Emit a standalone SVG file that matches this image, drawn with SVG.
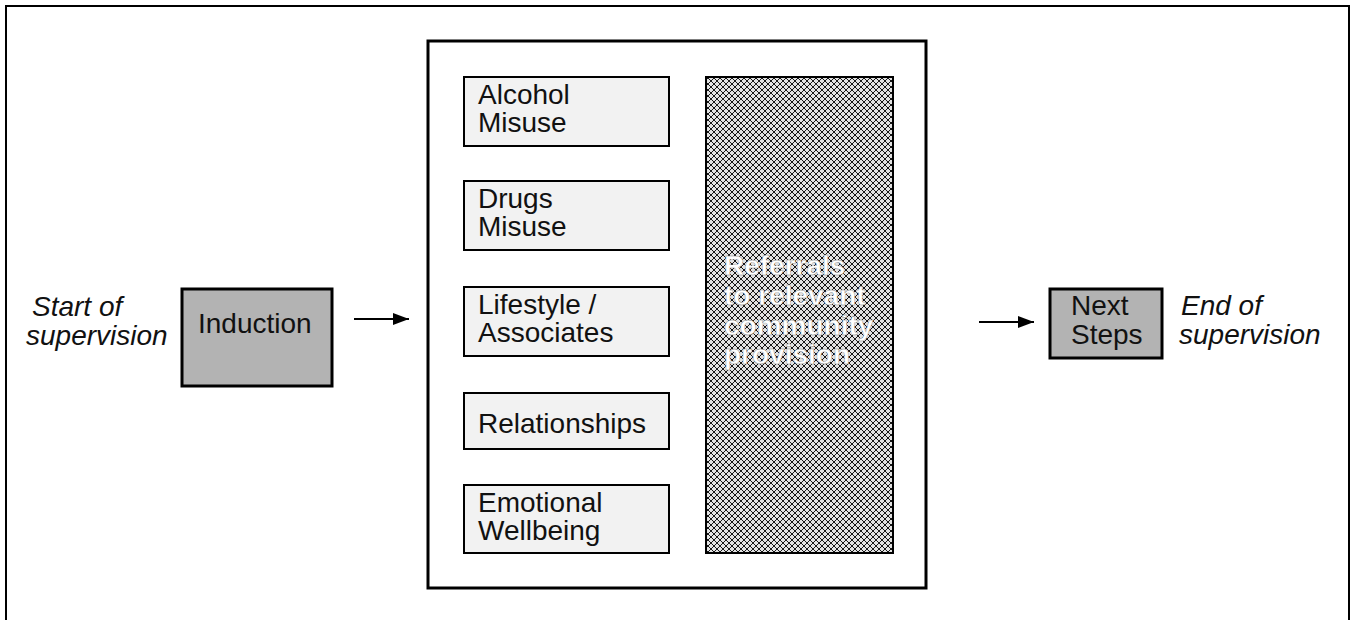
<svg xmlns="http://www.w3.org/2000/svg" width="1356" height="620" viewBox="0 0 1356 620">
<defs>
<pattern id="hatch" width="6" height="6" patternUnits="userSpaceOnUse">
<rect width="6" height="6" fill="#e2e2e2"/>
<path d="M0,0 L6,6 M6,0 L0,6" stroke="#000" stroke-width="0.9"/>
</pattern>
<marker id="arr" viewBox="0 0 16 12" refX="16" refY="6" markerWidth="16" markerHeight="12" markerUnits="userSpaceOnUse" orient="auto">
<path d="M0,0 L16,6 L0,12 Z" fill="#000"/>
</marker>
<style>
text{font-family:"Liberation Sans",Arial,sans-serif;font-size:28px;fill:#111}
.it{font-style:italic}
.topic{fill:#f2f2f2;stroke:#000;stroke-width:2}
.step{fill:#b3b3b3;stroke:#000;stroke-width:3}
.ref{font-weight:bold;fill:#fff;stroke:#888;stroke-width:0.4}
.conn{stroke:#000;stroke-width:2;fill:none}
</style>
</defs>
<rect x="0" y="0" width="1356" height="620" fill="#fff"/>
<rect x="6" y="6" width="1343" height="620" fill="none" stroke="#000" stroke-width="2"/>

<g id="start-label">
<text class="it" x="32" y="316">Start of</text>
<text class="it" x="26" y="345">supervision</text>
</g>
<g id="induction">
<rect class="step" x="182" y="289" width="150" height="97"/>
<text x="198" y="333">Induction</text>
</g>

<g id="programme">
<rect x="428" y="41" width="498" height="547" fill="#fff" stroke="#000" stroke-width="3"/>
</g>
<g id="alcohol">
<rect class="topic" x="464" y="77" width="205" height="69"/>
<text x="478" y="104">Alcohol</text>
<text x="478" y="132">Misuse</text>
</g>
<g id="drugs">
<rect class="topic" x="464" y="181" width="205" height="69"/>
<text x="478" y="208">Drugs</text>
<text x="478" y="236">Misuse</text>
</g>
<g id="lifestyle">
<rect class="topic" x="464" y="287" width="205" height="69"/>
<text x="478" y="314">Lifestyle /</text>
<text x="478" y="342">Associates</text>
</g>
<g id="relationships">
<rect class="topic" x="464" y="393" width="205" height="56"/>
<text x="478" y="433">Relationships</text>
</g>
<g id="emotional">
<rect class="topic" x="464" y="485" width="205" height="68"/>
<text x="478" y="512">Emotional</text>
<text x="478" y="540">Wellbeing</text>
</g>
<g id="referrals">
<rect x="706" y="77" width="187" height="476" fill="url(#hatch)" stroke="#000" stroke-width="2"/>
<text class="ref" x="724" y="275">Referrals</text>
<text class="ref" x="724" y="305">to relevant</text>
<text class="ref" x="724" y="335">community</text>
<text class="ref" x="724" y="364">provision</text>
</g>

<g id="next-steps">
<rect class="step" x="1050" y="289" width="112" height="69"/>
<text x="1071" y="315">Next</text>
<text x="1071" y="344">Steps</text>
</g>
<g id="end-label">
<text class="it" x="1181" y="315">End of</text>
<text class="it" x="1179" y="344">supervision</text>
</g>

<g id="connectors">
<line class="conn" x1="354" y1="319" x2="409" y2="319" marker-end="url(#arr)"/>
<line class="conn" x1="979" y1="322" x2="1034" y2="322" marker-end="url(#arr)"/>
</g>
</svg>
